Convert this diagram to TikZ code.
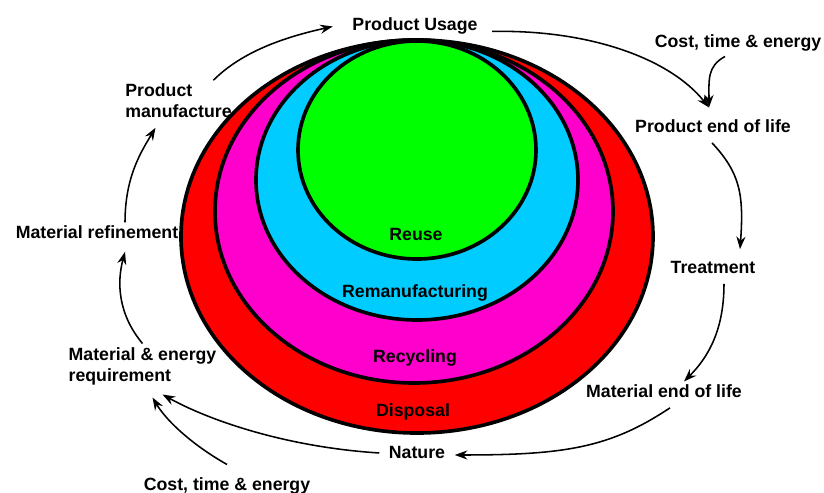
\documentclass[tikz,border=0pt]{standalone}
\usepackage{fontspec}
\setmainfont{Liberation Sans}
\usetikzlibrary{calc}
\usetikzlibrary{arrows.meta}

\definecolor{disposalred}{HTML}{FF0000}
\definecolor{recyclemag}{HTML}{FF00CC}
\definecolor{remancyan}{HTML}{00CCFF}
\definecolor{reusegreen}{HTML}{00FF00}

\tikzset{
  lbl/.style={font=\bfseries\fontsize{12.6}{15}\selectfont, inner sep=1pt, align=left},
  ring/.style={line width=2.6pt, draw=black},
  flow/.style={line width=1.1pt, -{Stealth[length=9pt,width=6.5pt,inset=3pt]}},
}

\begin{document}
\begin{tikzpicture}[x=0.025cm,y=-0.025cm]
            \useasboundingbox (0,0) rectangle (824,493);

            % Define the centres of the rings (all touch at the top)
            \coordinate (Cred) at (417,236.5);
            \coordinate (Cmag) at (414,211.5);
            \coordinate (Ccyan) at (417,180);
            \coordinate (Cgreen) at (417,150);

            % Draw the nested rings
            \draw[ring,fill=disposalred] (Cred) ellipse [x radius=236, y radius=196.5];
            \draw[ring,fill=recyclemag] (Cmag) ellipse [x radius=199, y radius=171.5];
            \draw[ring,fill=remancyan] (Ccyan) ellipse [x radius=161, y radius=140];
            \draw[ring,fill=reusegreen] (Cgreen) ellipse [x radius=119, y radius=109];

            % Ring labels
            \node[lbl,anchor=base] (reuse) at (416,240) {Reuse};
            \node[lbl,anchor=base] (reman) at (415,297) {Remanufacturing};
            \node[lbl,anchor=base] (recyc) at (415,362) {Recycling};
            \node[lbl,anchor=base] (dispo) at (413,416) {Disposal};

            % Stages of the life cycle
            \node[lbl,anchor=base] (usage) at (415,30) {Product Usage};
            \node[lbl,anchor=base] (costtop) at (738,48) {Cost, time \& energy};
            \node[lbl,anchor=base] (prodeol) at (713,132) {Product end of life};
            \node[lbl,anchor=base] (treat) at (713,273) {Treatment};
            \node[lbl,anchor=base] (mateol) at (664,397) {Material end of life};
            \node[lbl,anchor=base] (nature) at (417,458) {Nature};
            \node[lbl,anchor=base] (costbot) at (227,490) {Cost, time \& energy};
            \node[lbl] (matreq) at (142.5,366) {Material \& energy\\requirement};
            \node[lbl,anchor=base] (refine) at (97,238) {Material refinement};
            \node[lbl] (manuf) at (178.5,101) {Product\\manufacture};

            % Draw the flow round the rings
            \draw[flow] ($(manuf.north east)+(-20,-2)$) .. controls +(30,-30) and +(-45,10) .. ($(usage.west)+(-18,1)$);
            \draw[flow] ($(usage.east)+(13,6)$) .. controls +(95,-2) and +(-40,-50) .. ($(prodeol.north)+(-4,-10)$);
            \draw[flow] ($(costtop.south)+(-13,3)$) .. controls +(-18,10) and +(0,-28) .. ($(prodeol.north)+(-4,-10)$);
            \draw[flow] ($(prodeol.south)+(-1,9)$) .. controls +(28,30) and +(4,-55) .. ($(treat.north)+(27,-10)$);
            \draw[flow] ($(treat.south)+(11,9)$) .. controls +(0,45) and +(25,-25) .. ($(mateol.north)+(20,-1)$);
            \draw[flow] ($(mateol.south)+(6,9)$) .. controls +(-60,40) and +(110,0) .. ($(nature.east)+(8,3)$);
            \draw[flow] ($(nature.west)+(-8,1)$) .. controls +(-95,-6) and +(45,25) .. ($(matreq.south)+(20,8)$);
            \draw[flow] ($(costbot.north)+(0,-11)$) .. controls +(-32,-18) and +(15,25) .. ($(matreq.south)+(10,11)$);
            \draw[flow] ($(matreq.north)+(0,-2)$) .. controls +(-25,-30) and +(-8,30) .. ($(refine.south)+(28,12)$);
            \draw[flow] ($(refine.north)+(28,-1)$) .. controls +(0,-45) and +(-15,25) .. ($(manuf.south)+(-23,8)$);

        \end{tikzpicture}
\end{document}
